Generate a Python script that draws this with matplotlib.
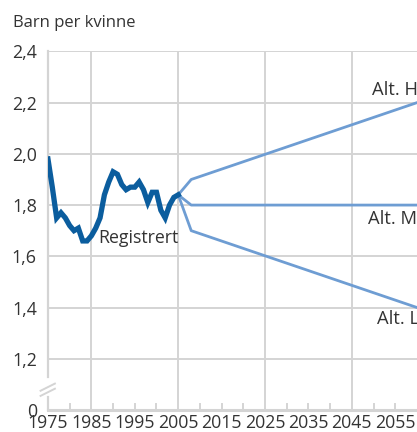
import matplotlib
matplotlib.use("Agg")
import matplotlib.pyplot as plt

plt.rcParams["font.family"] = ["Open Sans", "DejaVu Sans"]

# registrert samlet fruktbarhet
years_reg = list(range(1975, 2006))
tfr_reg = [1.98, 1.87, 1.75, 1.77, 1.75, 1.72, 1.70, 1.71, 1.66, 1.66,
           1.68, 1.71, 1.75, 1.84, 1.89, 1.93, 1.92, 1.88, 1.86, 1.87,
           1.87, 1.89, 1.86, 1.81, 1.85, 1.85, 1.78, 1.75, 1.80, 1.83,
           1.84]

# framskrivinger
years_alt = [2005, 2008, 2060]
alt_h = [1.84, 1.90, 2.20]
alt_m = [1.84, 1.80, 1.80]
alt_l = [1.84, 1.70, 1.40]

xticks = list(range(1975, 2061, 10))
yticks = [1.0, 1.2, 1.4, 1.6, 1.8, 2.0, 2.2, 2.4]
ylabels = ["0", "1,2", "1,4", "1,6", "1,8", "2,0", "2,2", "2,4"]

dark = "#0b5d9e"
light = "#6e9dd3"
grid = "#d4d4d4"
txt = "#333333"

fig = plt.figure(figsize=(4.17, 4.32), dpi=100)
ax = fig.add_axes([0.115, 0.051, 0.885, 0.830])
ax.set_xlim(1975, 2060)
ax.set_ylim(1.0, 2.4)

# horisontale gridlinjer
for y in yticks[1:]:
    ax.axhline(y, color=grid, lw=1.4, zorder=1)
# vertikale gridlinjer
for x in [1985, 2005, 2025, 2045]:
    ax.axvline(x, color=grid, lw=1.4, zorder=1)

# venstre akse med brudd
ax.plot([1975, 1975], [1.13, 2.4], color=grid, lw=1.6, clip_on=False, zorder=1)
ax.plot([1975, 1975], [1.0, 1.05], color=grid, lw=1.6, clip_on=False, zorder=1)
ax.plot([1973.3, 1976.6], [1.075, 1.103], color=grid, lw=1.4, clip_on=False, zorder=1)
ax.plot([1973.3, 1976.6], [1.055, 1.083], color=grid, lw=1.4, clip_on=False, zorder=1)

for s in ax.spines.values():
    s.set_visible(False)
ax.plot([1975, 2060], [1.0, 1.0], color=grid, lw=2.2, clip_on=False, zorder=1)

# små tick-merker
for x in range(1980, 2060, 5):
    if x not in (1985, 2005, 2025, 2045):
        ax.plot([x, x], [1.0, 1.022], color=grid, lw=1.4, zorder=1)

ax.plot(years_alt, alt_h, color=light, lw=2, zorder=2)
ax.plot(years_alt, alt_m, color=light, lw=2, zorder=2)
ax.plot(years_alt, alt_l, color=light, lw=2, zorder=2)
ax.plot(years_reg, tfr_reg, color=dark, lw=3.8, zorder=3,
        solid_joinstyle="miter")

ax.set_xticks(xticks)
ax.set_xticklabels([str(x) for x in xticks])
ax.set_yticks(yticks)
ax.set_yticklabels(ylabels)
ax.tick_params(length=0, labelsize=12.8, colors=txt)
ax.tick_params(axis="y", pad=8)
ax.tick_params(axis="x", pad=3)

ax.text(1986.6, 1.672, "Registrert", fontsize=12.8, color=txt,
        ha="left", va="center")
ax.text(2049.6, 2.25, "Alt. H", fontsize=13.2, color=txt, ha="left", va="center")
ax.text(2048.6, 1.746, "Alt. M", fontsize=13.2, color=txt, ha="left", va="center")
ax.text(2050.7, 1.357, "Alt. L", fontsize=13.2, color=txt, ha="left", va="center")

fig.text(0.03, 0.947, "Barn per kvinne", fontsize=12, color=txt,
         ha="left", va="center")

fig.savefig("out.png", dpi=100)
